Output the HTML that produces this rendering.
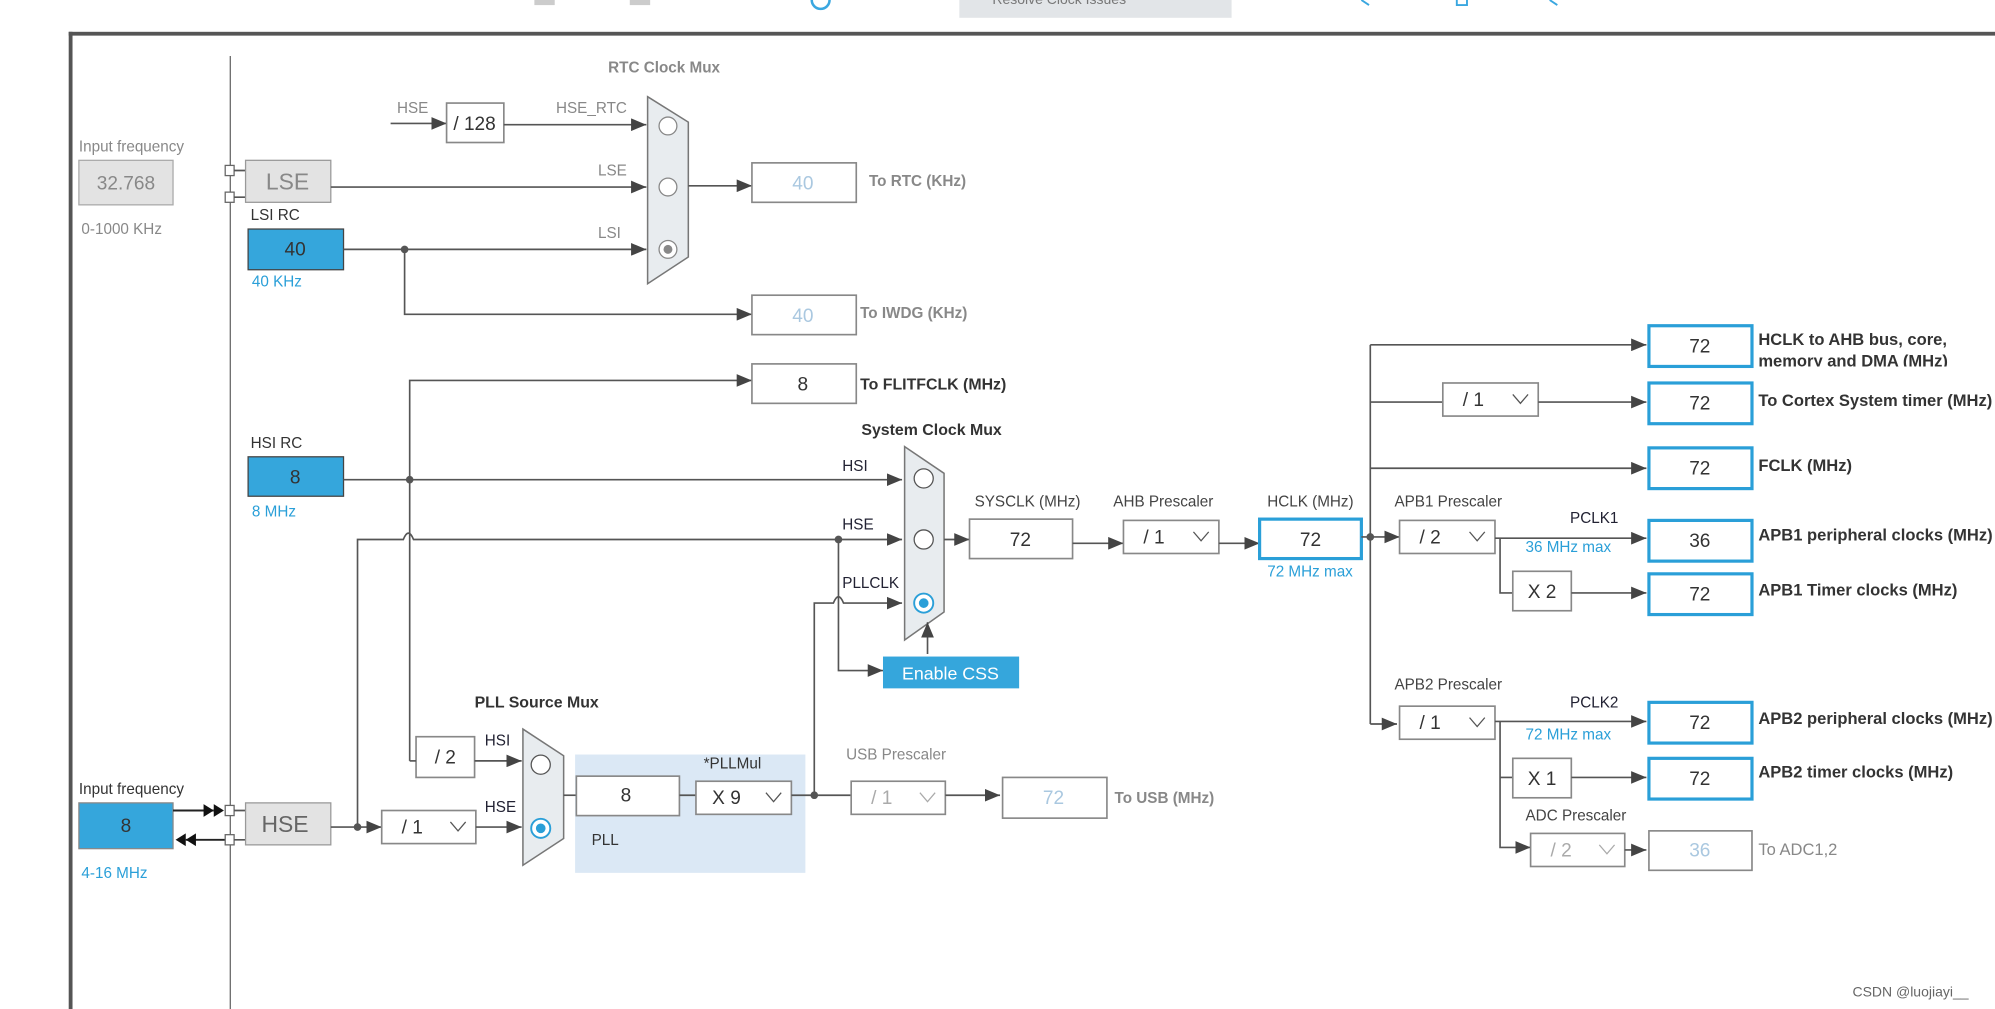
<!DOCTYPE html>
<html><head><meta charset="utf-8"><style>
html,body{margin:0;padding:0;background:#fff;}
svg{display:block;}
text{font-family:"Liberation Sans",sans-serif;}
.l{font-size:12px;fill:#444;}
.g{font-size:12px;fill:#888;}
.b{font-size:12.5px;fill:#333;font-weight:bold;}
.r{font-size:13px;fill:#333;font-weight:bold;}
.gb{font-size:12px;fill:#888;font-weight:bold;}
.bl{font-size:12px;fill:#2a9fd8;}
.v{font-size:15px;fill:#333;text-anchor:middle;}
.vg{font-size:15px;fill:#aac8e0;text-anchor:middle;}
.ln{stroke:#555;stroke-width:1.3;fill:none;}
.bx{fill:#fff;stroke:#888;stroke-width:1.3;}
.bb{fill:#fff;stroke:#2a9fd8;stroke-width:2.5;}
.mux{fill:#e8ecef;stroke:#777;stroke-width:1.2;}
</style></head><body>
<svg width="1995" height="1009" viewBox="0 0 1568 793" preserveAspectRatio="none">
<defs>
<marker id="a" markerWidth="12" markerHeight="10" refX="12" refY="5" orient="auto" markerUnits="userSpaceOnUse"><path d="M0,0 L12,5 L0,10z" fill="#444"/></marker>
</defs>
<rect x="420" y="0" width="16" height="4" fill="#ccc"/>
<rect x="495" y="0" width="16" height="4" fill="#ccc"/>
<path d="M638,0 A7,7 0 0 0 652,0" stroke="#3aa7e0" stroke-width="2" fill="none"/>
<rect x="754" y="0" width="214" height="14" fill="#e2e5e8"/>
<text x="780" y="3" style="font-size:11px;fill:#777">Resolve Clock Issues</text>
<path d="M1070,0 l6,4 M1145,0 v4 h8 v-4 M1218,0 l6,4" stroke="#3aa7e0" stroke-width="1.5" fill="none"/>
<rect x="54" y="25" width="1520" height="3" fill="#555"/>
<rect x="54" y="25" width="3" height="780" fill="#555"/>
<line x1="181" y1="44" x2="181" y2="793" stroke="#666" stroke-width="1"/>

<text x="62" y="119" class="g">Input frequency</text>
<rect x="62" y="126" width="74" height="35" fill="#e3e3e3" stroke="#aaa"/>
<text x="99" y="149" class="v" style="fill:#888">32.768</text>
<text x="64" y="184" class="g">0-1000 KHz</text>
<rect x="177" y="130" width="7" height="8" fill="#fff" stroke="#666"/>
<rect x="177" y="151" width="7" height="8" fill="#fff" stroke="#666"/>
<path d="M184,134 h9 M184,155 h9" class="ln"/>
<rect x="193" y="126" width="67" height="33" fill="#e3e3e3" stroke="#999"/>
<text x="226" y="149" style="font-size:18px;fill:#888;text-anchor:middle">LSE</text>

<text x="197" y="173" class="l" style="fill:#333">LSI RC</text>
<rect x="195" y="180" width="75" height="32" fill="#35a6dc" stroke="#444"/>
<text x="232" y="201" class="v">40</text>
<text x="198" y="225" class="bl">40 KHz</text>

<text x="478" y="57" class="gb">RTC Clock Mux</text>
<text x="312" y="89" class="g">HSE</text>
<line x1="307" y1="97" x2="351" y2="97" class="ln" marker-end="url(#a)"/>
<rect x="351" y="81" width="45" height="31" class="bx"/>
<text x="373" y="102" class="v">/ 128</text>
<text x="437" y="89" class="g">HSE_RTC</text>
<line x1="396" y1="98" x2="508" y2="98" class="ln" marker-end="url(#a)"/>
<text x="470" y="138" class="g">LSE</text>
<line x1="260" y1="147" x2="508" y2="147" class="ln" marker-end="url(#a)"/>
<text x="470" y="187" class="g">LSI</text>
<line x1="270" y1="196" x2="508" y2="196" class="ln" marker-end="url(#a)"/>
<circle cx="318" cy="196" r="3" fill="#555"/>
<polyline points="318,196 318,247 591,247" class="ln" marker-end="url(#a)"/>
<polygon points="509,76 541,96 541,202 509,223" class="mux"/>
<circle cx="525" cy="99" r="7" fill="#fff" stroke="#888"/>
<circle cx="525" cy="147" r="7" fill="#fff" stroke="#888"/>
<circle cx="525" cy="196" r="7" fill="#fff" stroke="#888"/>
<circle cx="525" cy="196" r="3.5" fill="#888"/>
<line x1="541" y1="146" x2="591" y2="146" class="ln" marker-end="url(#a)"/>
<rect x="591" y="128" width="82" height="31" class="bx"/>
<text x="631" y="149" class="vg">40</text>
<text x="683" y="146" class="gb">To RTC (KHz)</text>
<rect x="591" y="232" width="82" height="31" class="bx"/>
<text x="631" y="253" class="vg">40</text>
<text x="676" y="250" class="gb">To IWDG (KHz)</text>

<polyline points="322,598 322,299 591,299" class="ln" marker-end="url(#a)"/>
<rect x="591" y="286" width="82" height="31" class="bx"/>
<text x="631" y="307" class="v">8</text>
<text x="676" y="306" class="b">To FLITFCLK (MHz)</text>

<text x="197" y="352" class="l" style="fill:#333">HSI RC</text>
<rect x="195" y="359" width="75" height="31" fill="#35a6dc" stroke="#444"/>
<text x="232" y="380" class="v">8</text>
<text x="198" y="406" class="bl">8 MHz</text>
<line x1="270" y1="377" x2="709" y2="377" class="ln" marker-end="url(#a)"/>
<circle cx="322" cy="377" r="3" fill="#555"/>
<text x="662" y="370" class="l" style="fill:#223">HSI</text>
<path d="M281,650 V424 H317 Q321,414 325,424 H709" class="ln" marker-end="url(#a)"/>
<circle cx="659" cy="424" r="3" fill="#555"/>
<text x="662" y="416" class="l" style="fill:#223">HSE</text>
<polyline points="659,424 659,527 694,527" class="ln" marker-end="url(#a)"/>
<path d="M640,625 V474 H655 Q659,464 663,474 H709" class="ln" marker-end="url(#a)"/>
<text x="662" y="462" class="l" style="fill:#223">PLLCLK</text>
<text x="677" y="342" class="b">System Clock Mux</text>
<polygon points="711,351 742,372 742,481 711,503" class="mux"/>
<circle cx="726" cy="376" r="7.5" fill="#fff" stroke="#555"/>
<circle cx="726" cy="424" r="7.5" fill="#fff" stroke="#555"/>
<circle cx="726" cy="474" r="7.5" fill="#fff" stroke="#2a9fd8" stroke-width="1.5"/>
<circle cx="726" cy="474" r="3.8" fill="#2a9fd8"/>
<rect x="694" y="516" width="107" height="25" fill="#35a6dc"/>
<text x="747" y="534" style="font-size:14px;fill:#fff;text-anchor:middle">Enable CSS</text>
<line x1="729" y1="514" x2="729" y2="489" class="ln" marker-end="url(#a)"/>

<line x1="742" y1="424" x2="762" y2="424" class="ln" marker-end="url(#a)"/>
<text x="766" y="398" class="l">SYSCLK (MHz)</text>
<rect x="762" y="408" width="81" height="31" class="bx"/>
<text x="802" y="429" class="v">72</text>
<line x1="843" y1="427" x2="883" y2="427" class="ln" marker-end="url(#a)"/>
<text x="875" y="398" class="l">AHB Prescaler</text>
<rect x="883" y="409" width="75" height="26" class="bx"/>
<text x="907" y="427" class="v">/ 1</text>
<polyline points="938,418 944,425 950,418" stroke="#555" fill="none"/>
<line x1="958" y1="427" x2="990" y2="427" class="ln" marker-end="url(#a)"/>
<text x="996" y="398" class="l">HCLK (MHz)</text>
<rect x="990" y="408" width="80" height="31" class="bb"/>
<text x="1030" y="429" class="v">72</text>
<text x="996" y="453" class="bl">72 MHz max</text>

<line x1="1070" y1="422" x2="1100" y2="422" class="ln" marker-end="url(#a)"/>
<circle cx="1077" cy="422" r="3" fill="#555"/>
<line x1="1077" y1="271" x2="1077" y2="569" class="ln"/>
<line x1="1077" y1="271" x2="1294" y2="271" class="ln" marker-end="url(#a)"/>
<rect x="1296" y="256" width="81" height="32" class="bb"/>
<text x="1336" y="277" class="v">72</text>
<text x="1382" y="271" class="r">HCLK to AHB bus, core,</text>
<svg x="1380" y="276" width="200" height="12" overflow="hidden"><text x="2" y="12" class="r">memory and DMA (MHz)</text></svg>

<line x1="1077" y1="316" x2="1134" y2="316" class="ln"/>
<rect x="1134" y="301" width="75" height="26" class="bx"/>
<text x="1158" y="319" class="v">/ 1</text>
<polyline points="1189,310 1195,317 1201,310" stroke="#555" fill="none"/>
<line x1="1209" y1="316" x2="1294" y2="316" class="ln" marker-end="url(#a)"/>
<rect x="1296" y="301" width="81" height="32" class="bb"/>
<text x="1336" y="322" class="v">72</text>
<text x="1382" y="319" class="r">To Cortex System timer (MHz)</text>

<line x1="1077" y1="368" x2="1294" y2="368" class="ln" marker-end="url(#a)"/>
<rect x="1296" y="352" width="81" height="32" class="bb"/>
<text x="1336" y="373" class="v">72</text>
<text x="1382" y="370" class="r">FCLK (MHz)</text>

<text x="1096" y="398" class="l">APB1 Prescaler</text>
<rect x="1100" y="409" width="75" height="26" class="bx"/>
<text x="1124" y="427" class="v">/ 2</text>
<polyline points="1155,418 1161,425 1167,418" stroke="#555" fill="none"/>
<line x1="1175" y1="423" x2="1294" y2="423" class="ln" marker-end="url(#a)"/>
<text x="1234" y="411" class="l" style="fill:#223">PCLK1</text>
<text x="1199" y="434" class="bl">36 MHz max</text>
<rect x="1296" y="409" width="81" height="32" class="bb"/>
<text x="1336" y="430" class="v">36</text>
<text x="1382" y="425" class="r">APB1 peripheral clocks (MHz)</text>
<polyline points="1179,423 1179,466 1189,466" class="ln"/>
<rect x="1189" y="449" width="46" height="31" class="bx"/>
<text x="1212" y="470" class="v">X 2</text>
<line x1="1235" y1="466" x2="1294" y2="466" class="ln" marker-end="url(#a)"/>
<rect x="1296" y="451" width="81" height="32" class="bb"/>
<text x="1336" y="472" class="v">72</text>
<text x="1382" y="468" class="r">APB1 Timer clocks (MHz)</text>

<line x1="1077" y1="569" x2="1098" y2="569" class="ln" marker-end="url(#a)"/>
<text x="1096" y="542" class="l">APB2 Prescaler</text>
<rect x="1100" y="555" width="75" height="26" class="bx"/>
<text x="1124" y="573" class="v">/ 1</text>
<polyline points="1155,564 1161,571 1167,564" stroke="#555" fill="none"/>
<line x1="1175" y1="567" x2="1294" y2="567" class="ln" marker-end="url(#a)"/>
<text x="1234" y="556" class="l" style="fill:#223">PCLK2</text>
<text x="1199" y="581" class="bl">72 MHz max</text>
<rect x="1296" y="552" width="81" height="32" class="bb"/>
<text x="1336" y="573" class="v">72</text>
<text x="1382" y="569" class="r">APB2 peripheral clocks (MHz)</text>
<polyline points="1179,567 1179,666 1203,666" class="ln" marker-end="url(#a)"/>
<line x1="1179" y1="611" x2="1189" y2="611" class="ln"/>
<rect x="1189" y="596" width="46" height="31" class="bx"/>
<text x="1212" y="617" class="v">X 1</text>
<line x1="1235" y1="611" x2="1294" y2="611" class="ln" marker-end="url(#a)"/>
<rect x="1296" y="596" width="81" height="32" class="bb"/>
<text x="1336" y="617" class="v">72</text>
<text x="1382" y="611" class="r">APB2 timer clocks (MHz)</text>
<text x="1199" y="645" class="l">ADC Prescaler</text>
<rect x="1203" y="655" width="74" height="26" class="bx"/>
<text x="1227" y="673" class="v" style="fill:#aaa">/ 2</text>
<polyline points="1257,664 1263,671 1269,664" stroke="#aaa" fill="none"/>
<line x1="1277" y1="668" x2="1294" y2="668" class="ln" marker-end="url(#a)"/>
<rect x="1296" y="653" width="81" height="31" class="bx"/>
<text x="1336" y="673" class="vg">36</text>
<text x="1382" y="672" class="g" style="font-size:13px">To ADC1,2</text>

<rect x="452" y="593" width="181" height="93" fill="#dbe8f5"/>
<text x="373" y="556" class="b">PLL Source Mux</text>
<rect x="327" y="579" width="46" height="32" class="bx"/>
<text x="350" y="600" class="v">/ 2</text>
<polyline points="322,598 327,598" class="ln"/>
<line x1="373" y1="598" x2="410" y2="598" class="ln" marker-end="url(#a)"/>
<text x="381" y="586" class="l" style="fill:#223">HSI</text>
<text x="381" y="638" class="l" style="fill:#223">HSE</text>
<polygon points="411,573 443,594 443,659 411,680" class="mux"/>
<circle cx="425" cy="601" r="7.5" fill="#fff" stroke="#555"/>
<circle cx="425" cy="651" r="7.5" fill="#fff" stroke="#2a9fd8" stroke-width="1.5"/>
<circle cx="425" cy="651" r="3.8" fill="#2a9fd8"/>
<line x1="443" y1="625" x2="453" y2="625" class="ln"/>
<rect x="453" y="610" width="81" height="31" class="bx"/>
<text x="492" y="630" class="v">8</text>
<line x1="534" y1="625" x2="547" y2="625" class="ln"/>
<text x="553" y="604" class="l" style="fill:#333">*PLLMul</text>
<rect x="547" y="614" width="75" height="26" class="bx"/>
<text x="571" y="632" class="v">X 9</text>
<polyline points="602,623 608,630 614,623" stroke="#555" fill="none"/>
<text x="465" y="664" class="l" style="fill:#333">PLL</text>
<line x1="622" y1="625" x2="669" y2="625" class="ln"/>
<circle cx="640" cy="625" r="3" fill="#555"/>
<text x="665" y="597" class="g">USB Prescaler</text>
<rect x="669" y="614" width="74" height="26" class="bx"/>
<text x="693" y="632" class="v" style="fill:#aaa">/ 1</text>
<polyline points="723,623 729,630 735,623" stroke="#aaa" fill="none"/>
<line x1="743" y1="625" x2="786" y2="625" class="ln" marker-end="url(#a)"/>
<rect x="788" y="611" width="82" height="32" class="bx"/>
<text x="828" y="632" class="vg">72</text>
<text x="876" y="631" class="gb">To USB (MHz)</text>

<text x="62" y="624" class="l" style="fill:#333">Input frequency</text>
<rect x="62" y="631" width="74" height="36" fill="#35a6dc" stroke="#888"/>
<text x="99" y="654" class="v">8</text>
<text x="64" y="690" class="bl">4-16 MHz</text>
<line x1="136" y1="637" x2="168" y2="637" stroke="#222" stroke-width="1.5"/>
<path d="M160,632 L168,637 L160,642z M168,632 L176,637 L168,642z" fill="#111"/>
<line x1="146" y1="660" x2="177" y2="660" stroke="#222" stroke-width="1.5"/>
<path d="M146,655 L138,660 L146,665z M154,655 L146,660 L154,665z" fill="#111"/>
<rect x="177" y="633" width="7" height="8" fill="#fff" stroke="#666"/>
<rect x="177" y="656" width="7" height="8" fill="#fff" stroke="#666"/>
<path d="M184,637 h9 M184,660 h9" class="ln"/>
<rect x="193" y="631" width="67" height="33" fill="#e3e3e3" stroke="#999"/>
<text x="224" y="654" style="font-size:18px;fill:#666;text-anchor:middle">HSE</text>
<line x1="260" y1="650" x2="300" y2="650" class="ln" marker-end="url(#a)"/>
<circle cx="281" cy="650" r="3" fill="#555"/>
<rect x="300" y="637" width="74" height="26" class="bx"/>
<text x="324" y="655" class="v">/ 1</text>
<polyline points="354,646 360,653 366,646" stroke="#555" fill="none"/>
<line x1="374" y1="650" x2="410" y2="650" class="ln" marker-end="url(#a)"/>

<text x="1456" y="783" style="font-size:11px;fill:#666">CSDN @luojiayi__</text>
</svg>
</body></html>
